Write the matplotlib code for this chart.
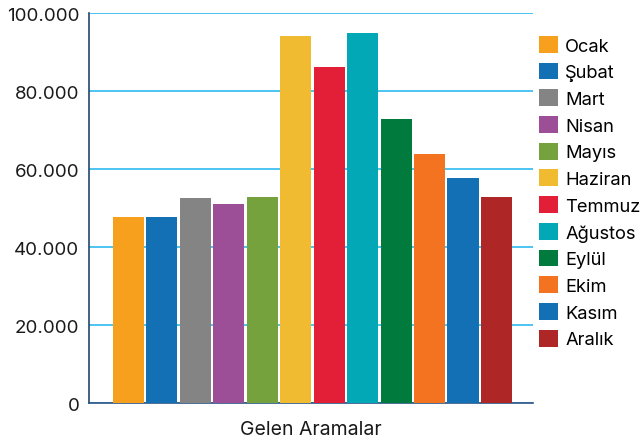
import matplotlib.pyplot as plt
from matplotlib.ticker import FuncFormatter
from matplotlib.patches import Patch

plt.rcParams['font.family'] = ['Inter', 'DejaVu Sans']

# data
months = ['Ocak', 'Şubat', 'Mart', 'Nisan', 'Mayıs', 'Haziran',
          'Temmuz', 'Ağustos', 'Eylül', 'Ekim', 'Kasım', 'Aralık']
calls = [47700, 47700, 52600, 51000, 52800, 94100,
         86200, 94900, 72800, 63800, 57700, 52800]
colors = ['#f7a01e', '#1470b4', '#848484', '#9c4f96', '#76a23e', '#f0bb30',
          '#e21f36', '#03a8b6', '#007a3d', '#f37321', '#1470b4', '#ae2626']
yticks = [0, 20000, 40000, 60000, 80000, 100000]

fig = plt.figure(figsize=(6.43, 4.39), dpi=100)
ax = fig.add_axes((0.1384, 0.0797, 0.6905, 0.8884))

x = list(range(len(months)))
ax.bar(x, calls, width=0.93, color=colors, zorder=3)

ax.set_ylim(0, 100000)
ax.set_xlim(-1.18, 12.09)
ax.set_yticks(yticks)
ax.yaxis.set_major_formatter(FuncFormatter(lambda v, p: f'{int(v):,}'.replace(',', '.')))
ax.set_xticks([])
ax.tick_params(axis='y', length=0, pad=7, labelsize=13.5, labelcolor='#1a1a1a')
ax.grid(axis='y', color='#1cb4ee', linewidth=1.1, zorder=0)

for s in ['top', 'right']:
    ax.spines[s].set_visible(False)
ax.spines['left'].set_color('#24466e')
ax.spines['bottom'].set_color('#2b5585')
ax.spines['left'].set_linewidth(1.2)
ax.spines['bottom'].set_linewidth(1.2)

ax.set_xlabel('Gelen Aramalar', fontsize=14, color='#1a1a1a', labelpad=12)

handles = [Patch(facecolor=c, label=m) for m, c in zip(months, colors)]
fig.legend(handles=handles, loc='upper left', bbox_to_anchor=(0.838, 0.916),
           frameon=False, fontsize=13.2, handlelength=1.03, handleheight=1.03,
           handletextpad=0.4, labelspacing=0.44, borderaxespad=0, borderpad=0)

fig.savefig('out.png', dpi=100)
